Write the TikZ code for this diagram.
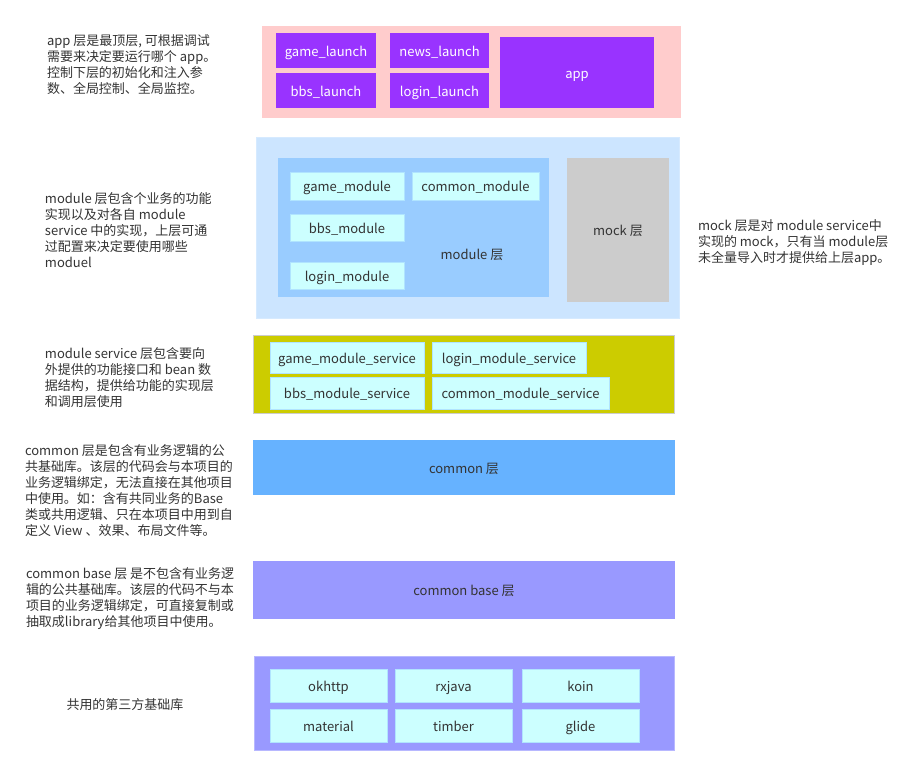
\documentclass[tikz,border=0pt]{standalone}
\usepackage{fontspec}
\setmainfont{Noto Sans CJK SC}
\usetikzlibrary{positioning}
\definecolor{pinkbg}{HTML}{FFCCCC}
\definecolor{launchpurple}{HTML}{9933FF}
\definecolor{modouter}{HTML}{CCE5FF}
\definecolor{modinnerbg}{HTML}{99CCFF}
\definecolor{cyanbox}{HTML}{CCFFFF}
\definecolor{cyanline}{HTML}{B0E4FF}
\definecolor{mockgray}{HTML}{CCCCCC}
\definecolor{olive}{HTML}{CCCC00}
\definecolor{commonblue}{HTML}{66B2FF}
\definecolor{lavender}{HTML}{9999FF}
\definecolor{txtgray}{HTML}{333333}
\begin{document}
\begin{tikzpicture}[x=1pt, y=-1pt,
    every node/.style={font=\fontsize{13}{16}\selectfont, text=txtgray, outer sep=0pt},
    layer/.style={rectangle, anchor=north west, inner sep=0pt},
    lbl/.style={text height=12pt, text depth=0pt, inner sep=0pt},
    launch/.style={rectangle, lbl, fill=launchpurple, text=white},
    item/.style={rectangle, lbl, fill=cyanbox, draw=cyanline, line width=0.6pt},
    note/.style={anchor=north west, align=left, inner sep=0pt}]
    \useasboundingbox (0,0) rectangle (914,775);

    % app
    \node[layer, fill=pinkbg, minimum width=419pt, minimum height=92pt] (applayer) at (262,26) {};
    \node[launch, anchor=north west, minimum width=100pt, minimum height=35pt] (game_launch) at (276,33) {game\_launch};
    \node[launch, right=14pt of game_launch, minimum width=99pt, minimum height=35pt] (news_launch) {news\_launch};
    \node[launch, below=5pt of game_launch, minimum width=100pt, minimum height=35pt] (bbs_launch) {bbs\_launch};
    \node[launch, right=14pt of bbs_launch, minimum width=99pt, minimum height=35pt] (login_launch) {login\_launch};
    \node[launch, anchor=north west, minimum width=154pt, minimum height=71pt] (app) at (500,37) {app};
    \node[note] (apptext) at (47,34.5) {app 层是最顶层, 可根据调试\\需要来决定要运行哪个 app。\\控制下层的初始化和注入参\\数、全局控制、全局监控。};

    % module
    \node[layer, fill=modouter, draw=modouter!80!white, minimum width=423pt, minimum height=181pt] (modlayer) at (256,137) {};
    \node[layer, fill=modinnerbg, minimum width=271pt, minimum height=139pt] (modinner) at (278,158) {};
    \node[item, anchor=north west, minimum width=114pt, minimum height=28pt] (game_module) at (290,172) {game\_module};
    \node[item, right=8pt of game_module, minimum width=127pt, minimum height=28pt] (common_module) {common\_module};
    \node[item, below=14pt of game_module, minimum width=114pt, minimum height=27pt] (bbs_module) {bbs\_module};
    \node[item, below=21pt of bbs_module, minimum width=114pt, minimum height=27pt] (login_module) {login\_module};
    \node[lbl] (modlabel) at (472,254) {module 层};
    \node[layer, fill=mockgray, minimum width=102pt, minimum height=144pt] (mock) at (567,158) {};
    \node[lbl] (mocklabel) at (mock.center) {mock 层};
    \node[note] (modtext) at (45,192.5) {module 层包含个业务的功能\\实现以及对各自 module\\service 中的实现，上层可通\\过配置来决定要使用哪些\\moduel};
    \node[note] (mocktext) at (698,219.5) {mock 层是对 module service中\\实现的 mock，只有当 module层\\未全量导入时才提供给上层app。};

    % module service
    \node[layer, fill=olive, draw=mockgray, line width=1pt, minimum width=421pt, minimum height=78pt] (svclayer) at (253,336) {};
    \node[item, anchor=north west, minimum width=154pt, minimum height=31pt] (game_module_service) at (270,342) {game\_module\_service};
    \node[item, right=8pt of game_module_service, minimum width=154pt, minimum height=31pt] (login_module_service) {login\_module\_service};
    \node[item, below=4pt of game_module_service, minimum width=154pt, minimum height=32pt] (bbs_module_service) {bbs\_module\_service};
    \node[item, right=8pt of bbs_module_service, minimum width=177pt, minimum height=32pt] (common_module_service) {common\_module\_service};
    \node[note] (svctext) at (45,347.5) {module service 层包含要向\\外提供的功能接口和 bean 数\\据结构，提供给功能的实现层\\和调用层使用};

    % common
    \node[layer, fill=commonblue, minimum width=422pt, minimum height=55pt] (common) at (253,440) {};
    \node[lbl] (commonlabel) at (common.center) {common 层};
    \node[note] (commontext) at (25,444.5) {common 层是包含有业务逻辑的公\\共基础库。该层的代码会与本项目的\\业务逻辑绑定，无法直接在其他项目\\中使用。如：含有共同业务的Base\\类或共用逻辑、只在本项目中用到自\\定义 View 、效果、布局文件等。};

    % common base
    \node[layer, fill=lavender, minimum width=422pt, minimum height=58pt] (commonbase) at (253,561) {};
    \node[lbl] (baselabel) at (commonbase.center) {common base 层};
    \node[note] (basetext) at (26,567.5) {common base 层 是不包含有业务逻\\辑的公共基础库。该层的代码不与本\\项目的业务逻辑绑定，可直接复制或\\抽取成library给其他项目中使用。};

    % third party
    \node[layer, fill=lavender, draw=lavender!70!white, minimum width=420pt, minimum height=94pt] (libs) at (254,656) {};
    \node[item, anchor=north west, minimum width=117pt, minimum height=33pt] (okhttp) at (270,669) {okhttp};
    \node[item, right=8pt of okhttp, minimum width=117pt, minimum height=33pt] (rxjava) {rxjava};
    \node[item, right=10pt of rxjava, minimum width=117pt, minimum height=33pt] (koin) {koin};
    \node[item, below=7pt of okhttp, minimum width=117pt, minimum height=33pt] (material) {material};
    \node[item, right=8pt of material, minimum width=117pt, minimum height=33pt] (timber) {timber};
    \node[item, right=10pt of timber, minimum width=117pt, minimum height=33pt] (glide) {glide};
    \node (libtext) at (125,705) {共用的第三方基础库};
\end{tikzpicture}
\end{document}
